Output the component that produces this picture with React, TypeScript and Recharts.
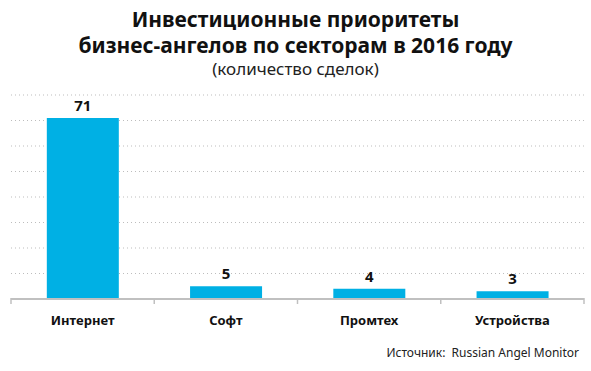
import { BarChart, Bar, XAxis, YAxis, CartesianGrid, LabelList } from 'recharts'

const sectors = ['Интернет', 'Софт', 'Промтех', 'Устройства']
const deals = [71, 5, 4, 3]
const yTicks = [0, 10, 20, 30, 40, 50, 60, 70, 80]

const data = sectors.map((name, i) => ({ name, deals: deals[i] }))

const font = '"Noto Sans", "DejaVu Sans", sans-serif'

// tick marks sit between categories, labels at the centre
function SectorTick(props: any) {
  const { x, y, payload, index } = props
  const half = payload.offset || 0
  const last = index === sectors.length - 1
  const top = y - 18
  return (
    <g>
      <line x1={x - half} x2={x - half} y1={top} y2={top + 6} stroke="#c0c0c0" strokeWidth={1.5} />
      {last && <line x1={x + half} x2={x + half} y1={top} y2={top + 6} stroke="#c0c0c0" strokeWidth={1.5} />}
      <text x={x} y={y} dy="0.71em" textAnchor="middle" fill="#111" fontSize={13} fontWeight={700} fontFamily={font}>
        {payload.value}
      </text>
    </g>
  )
}

export default function App() {
  return (
    <div style={{ position: 'absolute', left: 0, top: 0, width: 591, height: 371, background: '#fff', fontFamily: font }}>
      <div style={{ position: 'absolute', top: 6, left: 0, width: 591, textAlign: 'center', color: '#111' }}>
        <div style={{ fontSize: 21, fontWeight: 700, lineHeight: '26px' }}>Инвестиционные приоритеты</div>
        <div style={{ fontSize: 21, fontWeight: 700, lineHeight: '26px' }}>бизнес-ангелов по секторам в 2016 году</div>
        <div style={{ fontSize: 17, lineHeight: '22px', color: '#222' }}>(количество сделок)</div>
      </div>
      <BarChart width={591} height={371} data={data}
        margin={{ top: 95, right: 7, left: 11, bottom: 42 }} barCategoryGap="25%">
        <CartesianGrid vertical={false} stroke="#bdbdbd" strokeDasharray="1 3" />
        <YAxis hide domain={[0, 80]} ticks={yTicks} />
        <XAxis dataKey="name" height={30} interval={0}
          axisLine={{ stroke: '#c0c0c0', strokeWidth: 2 }} tickLine={false}
          tickMargin={11} tick={<SectorTick />} />
        <Bar dataKey="deals" fill="#00b0e4" isAnimationActive={false}>
          <LabelList dataKey="deals" position="top" offset={7}
            style={{ fill: '#111', fontSize: 15, fontWeight: 700, fontFamily: font }} />
        </Bar>
      </BarChart>
      <div style={{ position: 'absolute', top: 344, right: 12, fontSize: 12, color: '#222' }}>
        Источник:&nbsp; Russian Angel Monitor
      </div>
    </div>
  )
}
